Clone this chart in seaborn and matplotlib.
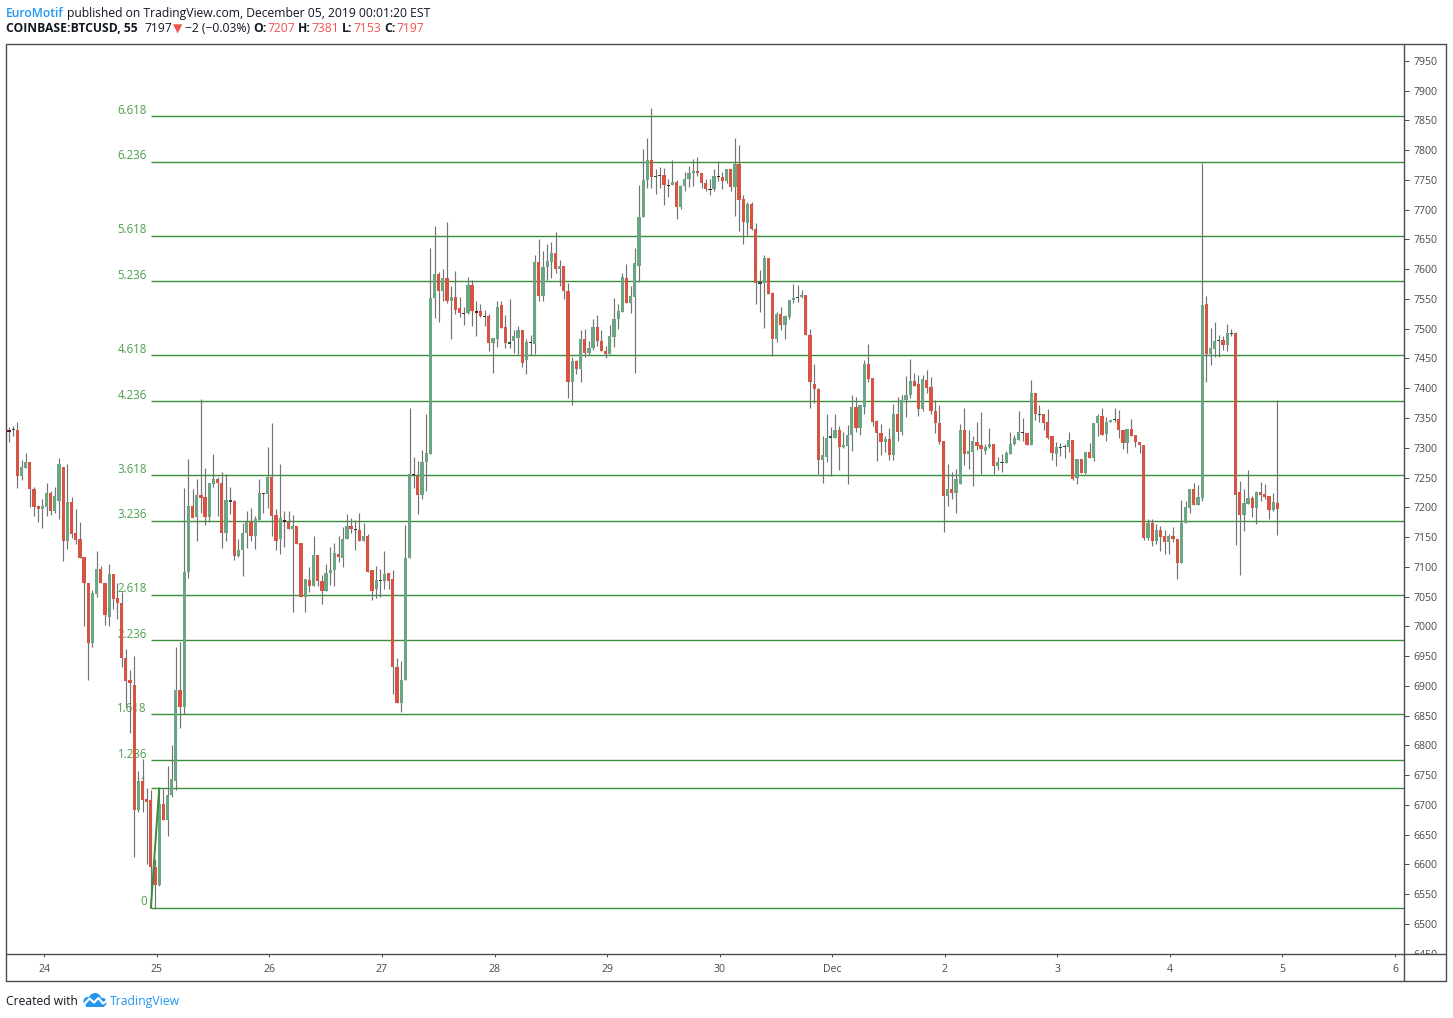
import numpy as np
import pandas as pd
import matplotlib
matplotlib.use("Agg")
import matplotlib.pyplot as plt
import seaborn as sns
from matplotlib.patches import Rectangle, Circle
from matplotlib.lines import Line2D

# ---------------- data ----------------
opens = [7329, 7329, 7330, 7253, 7266, 7276, 7230, 7202, 7197, 7201,
         7224, 7193, 7211, 7267, 7143, 7209, 7157, 7147, 7116, 7073,
         6972, 7055, 7097, 7073, 7016, 7088, 7047, 7040, 6946, 6910,
         6902, 6691, 6741, 6710, 6708, 6596, 6566, 6702, 6674, 6717,
         6741, 6893, 6864, 7091, 7202, 7183, 7221, 7217, 7183, 7239,
         7248, 7241, 7156, 7210, 7211, 7118, 7128, 7156, 7176, 7151,
         7179, 7224, 7223, 7251, 7187, 7146, 7179, 7176, 7163, 7169,
         7140, 7049, 7078, 7068, 7120, 7077, 7059, 7089, 7094, 7122,
         7114, 7146, 7168, 7164, 7162, 7144, 7151, 7095, 7062, 7077,
         7077, 7090, 7080, 6932, 6871, 6910, 7115, 7255, 7253, 7220,
         7276, 7290, 7551, 7592, 7564, 7586, 7546, 7554, 7534, 7527,
         7526, 7573, 7530, 7529, 7521, 7522, 7476, 7482, 7540, 7503,
         7474, 7480, 7485, 7497, 7448, 7477, 7475, 7612, 7555, 7604,
         7612, 7628, 7601, 7605, 7564, 7411, 7446, 7433, 7483, 7460,
         7467, 7503, 7480, 7463, 7457, 7486, 7516, 7528, 7586, 7543,
         7554, 7606, 7687, 7750, 7783, 7755, 7757, 7758, 7742, 7741,
         7747, 7704, 7739, 7751, 7761, 7765, 7761, 7745, 7735, 7734,
         7757, 7755, 7748, 7769, 7738, 7777, 7718, 7677, 7710, 7668,
         7575, 7576, 7618, 7560, 7482, 7525, 7506, 7520, 7548, 7551,
         7553, 7557, 7490, 7407, 7399, 7279, 7284, 7316, 7317, 7330,
         7301, 7303, 7321, 7369, 7334, 7369, 7441, 7418, 7345, 7324,
         7309, 7315, 7288, 7357, 7327, 7381, 7388, 7412, 7407, 7365,
         7414, 7402, 7362, 7342, 7311, 7219, 7231, 7224, 7239, 7330,
         7290, 7293, 7309, 7305, 7295, 7302, 7306, 7270, 7275, 7274,
         7290, 7307, 7313, 7326, 7325, 7305, 7392, 7355, 7357, 7343,
         7320, 7290, 7300, 7301, 7301, 7313, 7250, 7281, 7258, 7293,
         7283, 7341, 7353, 7323, 7343, 7346, 7348, 7330, 7308, 7332,
         7321, 7310, 7305, 7148, 7174, 7143, 7162, 7152, 7142, 7152,
         7147, 7107, 7173, 7199, 7230, 7204, 7216, 7542, 7458, 7466,
         7479, 7481, 7472, 7491, 7492, 7226, 7187, 7206, 7216, 7199,
         7226, 7223, 7219, 7195, 7207]

highs = [7335, 7337, 7344, 7280, 7291, 7276, 7234, 7204, 7214, 7241,
         7227, 7234, 7282, 7267, 7272, 7217, 7197, 7176, 7116, 7073,
         7061, 7126, 7101, 7073, 7104, 7088, 7072, 7057, 6962, 6927,
         6951, 6757, 6777, 6728, 6725, 6610, 6728, 6726, 6766, 6801,
         6965, 6974, 7232, 7281, 7231, 7248, 7382, 7266, 7241, 7290,
         7251, 7260, 7256, 7234, 7213, 7146, 7174, 7193, 7199, 7186,
         7248, 7224, 7302, 7342, 7197, 7273, 7193, 7193, 7187, 7169,
         7140, 7080, 7099, 7151, 7120, 7086, 7104, 7134, 7140, 7151,
         7167, 7189, 7182, 7178, 7191, 7174, 7155, 7095, 7101, 7097,
         7127, 7090, 7094, 6946, 6941, 7170, 7367, 7285, 7278, 7297,
         7357, 7636, 7672, 7595, 7601, 7680, 7571, 7597, 7554, 7537,
         7587, 7582, 7546, 7542, 7531, 7524, 7485, 7547, 7547, 7523,
         7550, 7498, 7504, 7497, 7482, 7490, 7623, 7650, 7630, 7643,
         7645, 7663, 7615, 7605, 7577, 7453, 7448, 7498, 7500, 7480,
         7517, 7523, 7498, 7471, 7507, 7552, 7542, 7593, 7609, 7571,
         7636, 7742, 7802, 7820, 7871, 7769, 7772, 7770, 7752, 7783,
         7750, 7742, 7764, 7773, 7785, 7789, 7761, 7751, 7752, 7768,
         7781, 7763, 7769, 7769, 7821, 7809, 7724, 7712, 7712, 7678,
         7599, 7623, 7618, 7562, 7528, 7536, 7523, 7549, 7575, 7574,
         7565, 7557, 7500, 7441, 7401, 7320, 7356, 7335, 7356, 7337,
         7326, 7339, 7388, 7386, 7371, 7447, 7475, 7418, 7347, 7340,
         7319, 7334, 7374, 7385, 7389, 7421, 7449, 7425, 7422, 7422,
         7431, 7419, 7380, 7372, 7311, 7273, 7260, 7264, 7340, 7366,
         7329, 7319, 7344, 7360, 7306, 7334, 7306, 7284, 7289, 7294,
         7326, 7321, 7362, 7350, 7325, 7413, 7392, 7372, 7357, 7365,
         7320, 7310, 7308, 7306, 7326, 7313, 7281, 7281, 7293, 7308,
         7342, 7357, 7367, 7352, 7347, 7367, 7363, 7330, 7332, 7348,
         7321, 7310, 7305, 7181, 7181, 7172, 7169, 7162, 7155, 7167,
         7147, 7212, 7211, 7230, 7241, 7237, 7778, 7555, 7502, 7512,
         7490, 7487, 7508, 7500, 7494, 7244, 7230, 7263, 7219, 7228,
         7243, 7239, 7219, 7224, 7381]

lows = [7309, 7320, 7232, 7246, 7266, 7201, 7186, 7175, 7165, 7185,
        7187, 7191, 7180, 7110, 7130, 7149, 7139, 7115, 7001, 6910,
        6966, 7050, 7073, 7003, 7001, 7029, 7012, 6931, 6864, 6821,
        6613, 6688, 6688, 6601, 6527, 6527, 6563, 6674, 6647, 6714,
        6725, 6829, 6852, 7081, 7182, 7144, 7191, 7170, 7176, 7234,
        7186, 7131, 7143, 7188, 7111, 7116, 7084, 7131, 7144, 7130,
        7179, 7190, 7199, 7151, 7128, 7121, 7134, 7163, 7024, 7139,
        7049, 7024, 7057, 7068, 7067, 7037, 7059, 7070, 7067, 7108,
        7099, 7146, 7157, 7128, 7144, 7144, 7091, 7044, 7047, 7050,
        7063, 7062, 6887, 6871, 6856, 6910, 7115, 7233, 7188, 7214,
        7228, 7290, 7518, 7512, 7546, 7544, 7482, 7525, 7519, 7506,
        7525, 7504, 7487, 7519, 7504, 7462, 7425, 7470, 7502, 7467,
        7467, 7459, 7458, 7436, 7424, 7456, 7458, 7546, 7547, 7582,
        7585, 7593, 7571, 7550, 7383, 7372, 7424, 7411, 7452, 7455,
        7464, 7471, 7462, 7450, 7457, 7470, 7500, 7528, 7543, 7527,
        7425, 7578, 7687, 7737, 7736, 7727, 7737, 7707, 7722, 7741,
        7684, 7701, 7731, 7738, 7739, 7756, 7736, 7731, 7724, 7732,
        7748, 7734, 7745, 7731, 7689, 7664, 7642, 7658, 7665, 7542,
        7528, 7502, 7558, 7454, 7478, 7497, 7483, 7516, 7543, 7545,
        7551, 7489, 7367, 7376, 7256, 7241, 7276, 7252, 7317, 7262,
        7299, 7239, 7295, 7327, 7322, 7356, 7411, 7336, 7277, 7288,
        7293, 7280, 7280, 7312, 7322, 7351, 7384, 7404, 7354, 7362,
        7392, 7356, 7324, 7307, 7158, 7203, 7214, 7191, 7239, 7271,
        7265, 7236, 7296, 7256, 7289, 7300, 7256, 7263, 7260, 7274,
        7290, 7305, 7313, 7312, 7305, 7305, 7346, 7343, 7329, 7314,
        7280, 7270, 7286, 7282, 7293, 7246, 7239, 7258, 7256, 7283,
        7278, 7319, 7321, 7312, 7343, 7343, 7317, 7298, 7292, 7320,
        7302, 7292, 7145, 7145, 7135, 7138, 7127, 7122, 7122, 7141,
        7080, 7107, 7173, 7191, 7204, 7204, 7211, 7411, 7439, 7452,
        7453, 7465, 7463, 7487, 7137, 7086, 7161, 7206, 7183, 7172,
        7211, 7214, 7181, 7194, 7153]

closes = [7327, 7331, 7253, 7267, 7276, 7230, 7201, 7197, 7202, 7224,
          7193, 7219, 7272, 7143, 7209, 7155, 7145, 7115, 7073, 6972,
          7056, 7097, 7073, 7019, 7088, 7046, 7039, 6946, 6909, 6905,
          6691, 6741, 6708, 6705, 6596, 6566, 6702, 6674, 6717, 6743,
          6893, 6864, 7091, 7202, 7182, 7221, 7215, 7183, 7240, 7248,
          7240, 7156, 7213, 7211, 7119, 7129, 7157, 7176, 7151, 7180,
          7224, 7223, 7251, 7186, 7143, 7182, 7176, 7163, 7168, 7139,
          7049, 7080, 7067, 7120, 7076, 7059, 7090, 7095, 7124, 7116,
          7147, 7168, 7163, 7162, 7144, 7151, 7091, 7059, 7078, 7078,
          7088, 7077, 6931, 6871, 6910, 7115, 7256, 7254, 7221, 7276,
          7291, 7552, 7592, 7564, 7586, 7546, 7554, 7532, 7526, 7525,
          7573, 7529, 7527, 7521, 7520, 7476, 7485, 7537, 7502, 7476,
          7477, 7488, 7497, 7443, 7478, 7476, 7612, 7555, 7604, 7614,
          7628, 7600, 7605, 7563, 7411, 7446, 7433, 7483, 7460, 7468,
          7503, 7480, 7462, 7457, 7487, 7517, 7529, 7587, 7544, 7555,
          7610, 7688, 7750, 7783, 7754, 7757, 7759, 7741, 7740, 7747,
          7704, 7740, 7752, 7762, 7765, 7761, 7744, 7734, 7734, 7757,
          7754, 7748, 7769, 7738, 7777, 7717, 7680, 7710, 7668, 7576,
          7578, 7619, 7559, 7482, 7525, 7506, 7522, 7549, 7552, 7554,
          7557, 7489, 7410, 7398, 7279, 7288, 7317, 7319, 7330, 7301,
          7305, 7322, 7369, 7334, 7371, 7441, 7416, 7344, 7324, 7309,
          7315, 7288, 7357, 7327, 7381, 7389, 7412, 7404, 7365, 7416,
          7401, 7361, 7341, 7310, 7219, 7231, 7224, 7247, 7330, 7290,
          7295, 7311, 7303, 7298, 7302, 7306, 7270, 7276, 7276, 7291,
          7307, 7317, 7326, 7324, 7305, 7392, 7356, 7357, 7342, 7316,
          7291, 7301, 7301, 7303, 7313, 7247, 7281, 7258, 7293, 7283,
          7342, 7353, 7321, 7343, 7347, 7348, 7329, 7308, 7332, 7320,
          7309, 7304, 7148, 7173, 7143, 7162, 7150, 7142, 7152, 7146,
          7107, 7174, 7201, 7230, 7204, 7217, 7540, 7458, 7468, 7480,
          7481, 7472, 7492, 7492, 7221, 7187, 7207, 7216, 7199, 7226,
          7221, 7217, 7195, 7209, 7197]

day_labels = ["24", "25", "26", "27", "28", "29", "30", "Dec", "2", "3", "4", "5", "6"]
price_ticks = list(range(6450, 8000, 50))
fib_ratios = [0, 1, 1.236, 1.618, 2.236, 2.618, 3.236, 3.618, 4.236, 4.618,
              5.236, 5.618, 6.236, 6.618]
fib_labels = ["0", "1", "1.236", "1.618", "2.236", "2.618", "3.236", "3.618",
              "4.236", "4.618", "5.236", "5.618", "6.236", "6.618"]
fib_start_bar = 34   # bar holding the swing low (level 0)
fib_end_bar = 36     # bar holding level 1

# ---------------- layout constants ----------------
W, H = 1453, 1018
DAY0_PX, PX_PER_DAY = 44.3, 112.56
BAR_PX = 4.172
FIRST_BAR_PX = 9.0
AX_L, AX_R, AX_T, AX_B = 6.3, 1404.3, 43.5, 954.3
OUT_R, OUT_B = 1446.0, 981.0
PX_PER_USD = 0.5953
Y_REF_PX, Y_REF_VAL = 924.0, 6500.0

UP, DN = "#6ba583", "#d75442"
UP_DARK, DN_DARK = "#225437", "#5b1a13"
WICK = "#737375"
FIB_LINE = "#3a8e3a"
FIB_TEXT = "#4e9e4e"
FRAME = "#4d4d4d"
TICK_TXT = "#4a4a4a"
DARK = "#131722"
BLUE = "#2196f3"
RED = "#ef5350"

sns.set_theme(style="white")
FAM = ["Open Sans", "DejaVu Sans"]
plt.rcParams["font.family"] = FAM

df = pd.DataFrame({"open": opens, "high": highs, "low": lows, "close": closes})
step = BAR_PX / PX_PER_DAY
t0 = (FIRST_BAR_PX - DAY0_PX) / PX_PER_DAY
df["t"] = t0 + np.arange(len(df)) * step
df["high"] = df[["high", "open", "close"]].max(axis=1)
df["low"] = df[["low", "open", "close"]].min(axis=1)

fig = plt.figure(figsize=(W / 100, H / 100), dpi=100)
fig.patch.set_facecolor("white")


def fx(px):
    return px / W


def fy(py):
    return 1 - py / H


ax = fig.add_axes([fx(AX_L), fy(AX_B), (AX_R - AX_L) / W, (AX_B - AX_T) / H])
ax.set_facecolor("white")

xmin = (AX_L - DAY0_PX) / PX_PER_DAY
xmax = (AX_R - DAY0_PX) / PX_PER_DAY
ytop = Y_REF_VAL + (Y_REF_PX - AX_T) / PX_PER_USD
ybot = Y_REF_VAL - (AX_B - Y_REF_PX) / PX_PER_USD
ax.set_xlim(xmin, xmax)
ax.set_ylim(ybot, ytop)

# ---------------- fib levels ----------------
fib_low = df["low"].iloc[fib_start_bar]
fib_high = df["high"].iloc[fib_end_bar]
t_start = df["t"].iloc[fib_start_bar]
t_end = df["t"].iloc[fib_end_bar]
levels = [fib_low + r * (fib_high - fib_low) for r in fib_ratios]
ax.hlines(levels, t_start, xmax, colors=FIB_LINE, linewidth=1.0, zorder=1)
for lab, lv in zip(fib_labels, levels):
    ax.annotate(lab, xy=(t_start, lv), xytext=(-4, 2.5), textcoords="offset pixels",
                ha="right", va="baseline", fontsize=8.3, color=FIB_TEXT, zorder=1)

# ---------------- candles ----------------
diff = (df["close"] - df["open"]).abs()
is_up = df["close"] >= df["open"]
doji = diff <= 3
colors = np.where(is_up, np.where(doji, UP_DARK, UP), np.where(doji, DN_DARK, DN))
body_h = np.maximum(diff, 2.0)
mid = (df["close"] + df["open"]) / 2
body_bottom = mid - body_h / 2

ax.vlines(df["t"], df["low"], df["high"], color=WICK, linewidth=0.85, zorder=2)
ax.bar(df["t"], body_h, bottom=body_bottom, width=step * 0.77, color=colors,
       linewidth=0, zorder=3)

# fib trend line (seaborn)
sns.lineplot(x=[t_start, t_end], y=[fib_low, fib_high], ax=ax, color=FIB_LINE,
             linewidth=1.4, zorder=4)

# ---------------- axes styling ----------------
for s in ax.spines.values():
    s.set_visible(False)
ax.set_xticks(np.arange(len(day_labels)))
ax.set_xticklabels(day_labels)
ax.set_yticks(price_ticks)
ax.set_yticklabels([str(p) for p in price_ticks])
ax.yaxis.tick_right()
ax.tick_params(axis="y", which="both", right=True, left=False, labelright=True,
               labelleft=False, direction="out", length=3.6, width=0.72, pad=3.0,
               labelsize=7.6, labelcolor=TICK_TXT, color=FRAME)
ax.tick_params(axis="x", which="both", bottom=True, top=False, direction="out",
               length=2.2, width=0.72, pad=5.0, labelsize=7.6, labelcolor=TICK_TXT,
               color=FRAME)
ax.grid(False)
ax.set_xlabel("")
ax.set_ylabel("")

# hide the lower half of the clipped 6450 label
fig.add_artist(Rectangle((fx(AX_R + 1), fy(OUT_B - 0.5)), (OUT_R - AX_R - 1.5) / W,
                         (OUT_B - AX_B - 1.5) / H, transform=fig.transFigure,
                         facecolor="white", edgecolor="none", zorder=5))


# frame lines
def fline(x0, y0, x1, y1):
    fig.add_artist(Line2D([fx(x0), fx(x1)], [fy(y0), fy(y1)], transform=fig.transFigure,
                          color=FRAME, linewidth=1.0, zorder=6))


fline(AX_L, AX_T, OUT_R, AX_T)
fline(AX_L, OUT_B, OUT_R, OUT_B)
fline(AX_L, AX_T, AX_L, OUT_B)
fline(OUT_R, AX_T, OUT_R, OUT_B)
fline(AX_R, AX_T, AX_R, OUT_B)
fline(AX_L, AX_B, OUT_R, AX_B)

# ---------------- header / footer text ----------------
renderer = fig.canvas.get_renderer()


def rich_line(pieces, x0, y_base, size, target_w):
    def draw(sz):
        arts = []
        x = x0
        px_per_pt = 100 / 72
        for txt, col, wt, gap in pieces:
            t = fig.text(fx(x), fy(y_base), txt, color=col, fontsize=sz,
                         fontweight=wt, ha="left", va="baseline", family=FAM, zorder=7)
            bb = t.get_window_extent(renderer)
            x += bb.width + gap * sz * px_per_pt
            arts.append(t)
        return arts, x - x0
    arts, w = draw(size)
    for a in arts:
        a.remove()
    arts, w = draw(size * target_w / w)
    return arts


SP = 0.26
rich_line([("EuroMotif", BLUE, "semibold", SP),
           ("published on TradingView.com, December 05, 2019 00:01:20 EST", DARK, "normal", 0)],
          6.0, 16.8, 9.0, 428.5)
rich_line([("COINBASE:BTCUSD, 55", DARK, "bold", SP * 2),
           ("7197", DARK, "normal", SP * 0.6),
           ("\u25bc", RED, "normal", SP * 0.6),
           ("\u22122 (\u22120.03%)", DARK, "normal", SP),
           ("O:", DARK, "bold", 0.05), ("7207", RED, "normal", SP),
           ("H:", DARK, "bold", 0.05), ("7381", RED, "normal", SP),
           ("L:", DARK, "bold", 0.05), ("7153", RED, "normal", SP),
           ("C:", DARK, "bold", 0.05), ("7197", RED, "normal", 0)],
          6.0, 32.5, 9.0, 417.5)

rich_line([("Created with", DARK, "normal", 0)], 6.0, 1005.0, 9.0, 72.5)
rich_line([("TradingView", BLUE, "normal", 0)], 110.0, 1005.0, 9.0, 71.0)

# TradingView logo (cloud with chart line)
lax = fig.add_axes([fx(81.5), fy(1007.5), 26 / W, 15.5 / H])
lax.set_xlim(0, 26)
lax.set_ylim(0, 15.5)
lax.axis("off")
for cx, cy, r in [(6.5, 6.0, 4.6), (13.5, 8.2, 6.3), (20.5, 5.2, 4.6)]:
    lax.add_patch(Circle((cx, cy), r, facecolor=BLUE, edgecolor="none"))
lax.add_patch(Rectangle((4.5, 0.6), 17.5, 5.0, facecolor=BLUE, edgecolor="none"))
lax.plot([2.0, 8.0, 12.5, 17.0, 21.5, 25.0], [2.5, 9.0, 5.0, 9.5, 4.0, 6.5],
         color="white", linewidth=1.6, solid_capstyle="round")

fig.savefig("out.png", dpi=100, facecolor="white")
